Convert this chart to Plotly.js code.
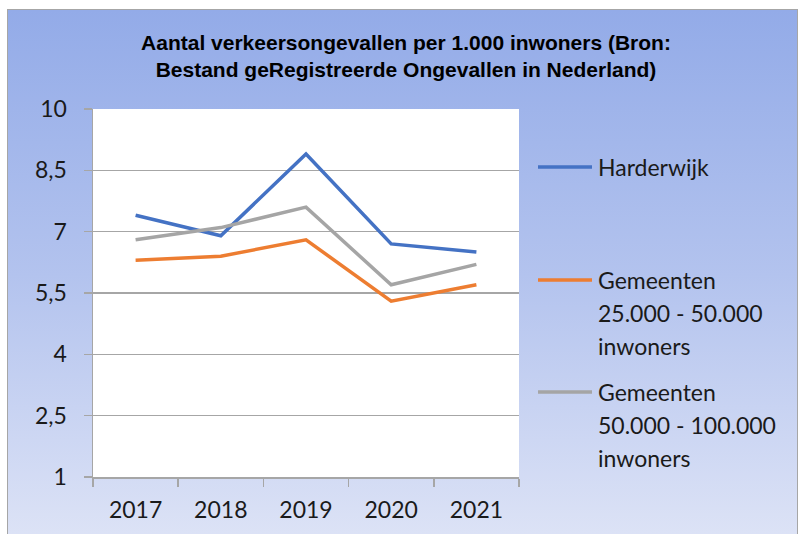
<!DOCTYPE html>
<html>
<head>
<meta charset="utf-8">
<script src="https://cdn.plot.ly/plotly-3.0.1.min.js"></script>
<style>
  html, body { margin: 0; padding: 0; background: #ffffff; }
  #bg { position: absolute; left: 7px; top: 9px; width: 789px; height: 530px;
        border: 1px solid #A6A6A6;
        background: linear-gradient(to bottom, #93ABE8 0%, #B3C3EE 50%, #DDE3F6 100%); }
  #chart { position: absolute; left: 0; top: 0; width: 798px; height: 534px; }
</style>
</head>
<body>
<div id="bg"></div>
<div id="chart"></div>
<script>
// ---- data ----
const years = ["2017", "2018", "2019", "2020", "2021"];
const harderwijk = [7.4, 6.9, 8.9, 6.7, 6.5];
const gem25_50 = [6.3, 6.4, 6.8, 5.3, 5.7];
const gem50_100 = [6.8, 7.1, 7.6, 5.7, 6.2];
const seriesNames = ["Harderwijk", "Gemeenten\n25.000 - 50.000\ninwoners", "Gemeenten\n50.000 - 100.000\ninwoners"];
const seriesColors = ["#4472C4", "#ED7D31", "#A5A5A5"];
const yTicks = [1, 2.5, 4, 5.5, 7, 8.5, 10];
const titleText = "Aantal verkeersongevallen per 1.000 inwoners (Bron:<br>Bestand geRegistreerde Ongevallen in Nederland)";

// ---- layout geometry ----
const W = 798, H = 534;
const M = { l: 93, r: 279, t: 109, b: 57 };
const plotW = W - M.l - M.r, plotH = H - M.t - M.b;
const px = x => (x - M.l) / plotW;
const py = y => (H - M.b - y) / plotH;

const allSeries = [harderwijk, gem25_50, gem50_100];
const traces = allSeries.map((vals, i) => ({
  type: "scatter",
  mode: "lines",
  x: years,
  y: vals,
  name: seriesNames[i].replace(/\n/g, " "),
  line: { color: seriesColors[i], width: 3.5 },
  showlegend: false,
  hoverinfo: "x+y+name"
}));

// custom legend (Excel-like): long key line, text lines spaced 33px
const legendTop = [167, 280, 392];
const lineGap = 33;
const shapes = [];
const annotations = [];
seriesNames.forEach((nm, i) => {
  shapes.push({
    type: "line", xref: "paper", yref: "paper",
    x0: px(538), x1: px(592), y0: py(legendTop[i]), y1: py(legendTop[i]),
    line: { color: seriesColors[i], width: 3.5 }
  });
  nm.split("\n").forEach((ln, j) => {
    annotations.push({
      xref: "paper", yref: "paper",
      x: px(596), y: py(legendTop[i] + j * lineGap),
      xanchor: "left", yanchor: "middle",
      text: ln, showarrow: false,
      font: { family: "Lato, 'Open Sans', sans-serif", size: 23, color: "#1a1a1a" }
    });
  });
});

const layout = {
  width: W, height: H,
  margin: M,
  paper_bgcolor: "rgba(0,0,0,0)",
  plot_bgcolor: "#ffffff",
  separators: ",.",
  showlegend: false,
  title: {
    text: titleText,
    xref: "container", yref: "container",
    x: 406 / W, y: 1 - 50 / H, xanchor: "center", yanchor: "top",
    font: { family: "'Liberation Sans', Arial, sans-serif", size: 21, color: "#000000", weight: "bold" }
  },
  xaxis: {
    type: "category",
    categoryorder: "array", categoryarray: years,
    range: [-0.5, years.length - 0.5],
    tickson: "boundaries",
    ticks: "outside", ticklen: 8, tickwidth: 1.5, tickcolor: "#A6A6A6",
    showline: true, linecolor: "#A6A6A6", linewidth: 1.5,
    showgrid: false, zeroline: false,
    ticklabelstandoff: 12,
    tickfont: { family: "Lato, 'Open Sans', sans-serif", size: 23, color: "#1a1a1a" },
    fixedrange: true
  },
  yaxis: {
    range: [1, 10],
    tickmode: "array", tickvals: yTicks,
    ticks: "outside", ticklen: 8, tickwidth: 1.5, tickcolor: "#A6A6A6",
    showline: true, linecolor: "#A6A6A6", linewidth: 1.5,
    showgrid: true, gridcolor: "#A6A6A6", gridwidth: 1.5,
    zeroline: false,
    ticklabelstandoff: 12,
    tickfont: { family: "Lato, 'Open Sans', sans-serif", size: 23, color: "#1a1a1a" },
    fixedrange: true
  },
  shapes: shapes,
  annotations: annotations
};

Plotly.newPlot("chart", traces, layout, { displayModeBar: false, staticPlot: true });
</script>
</body>
</html>
